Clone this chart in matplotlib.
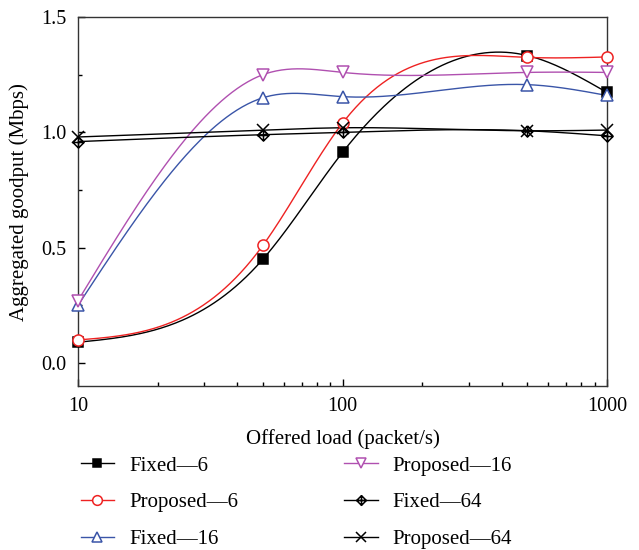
import numpy as np
import matplotlib
matplotlib.use('Agg')
import matplotlib.pyplot as plt
from matplotlib.path import Path
from matplotlib.ticker import MultipleLocator, FixedLocator, NullFormatter

plt.rcParams['font.family'] = ['Liberation Serif', 'DejaVu Serif']
plt.rcParams['font.size'] = 15

# offered load (packet/s)
load = [10, 50, 100, 500, 1000]

# aggregated goodput (Mbps)
fixed_6 = [0.09, 0.45, 0.913, 1.333, 1.173]
proposed_6 = [0.10, 0.51, 1.04, 1.325, 1.327]
fixed_16 = [0.25, 1.15, 1.155, 1.207, 1.16]
proposed_16 = [0.27, 1.25, 1.26, 1.26, 1.26]
fixed_64 = [0.96, 0.99, 1.0, 1.007, 0.985]
proposed_64 = [0.98, 1.01, 1.02, 1.007, 1.01]

labels = ['Fixed\u20146', 'Proposed\u20146', 'Fixed\u201416',
          'Proposed\u201416', 'Fixed\u201464', 'Proposed\u201464']


def spline(xs, ys, n=300):
    # natural cubic spline through the points, in log-x, for a smooth line
    x = np.log10(np.asarray(xs, float))
    y = np.asarray(ys, float)
    k = len(x)
    h = np.diff(x)
    A = np.zeros((k, k))
    b = np.zeros(k)
    A[0, 0] = A[-1, -1] = 1
    for i in range(1, k - 1):
        A[i, i - 1] = h[i - 1]
        A[i, i] = 2 * (h[i - 1] + h[i])
        A[i, i + 1] = h[i]
        b[i] = 6 * ((y[i + 1] - y[i]) / h[i] - (y[i] - y[i - 1]) / h[i - 1])
    m = np.linalg.solve(A, b)
    xx = np.linspace(x[0], x[-1], n)
    j = np.clip(np.searchsorted(x, xx) - 1, 0, k - 2)
    t0 = x[j + 1] - xx
    t1 = xx - x[j]
    hj = h[j]
    yy = (m[j] * t0**3 + m[j + 1] * t1**3) / (6 * hj) \
        + (y[j] / hj - m[j] * hj / 6) * t0 + (y[j + 1] / hj - m[j + 1] * hj / 6) * t1
    return 10**xx, yy


# diamond with a cross inside
diamond_cross = Path(
    [(0, 1), (1, 0), (0, -1), (-1, 0), (0, 1), (0, 1), (0, -1), (-1, 0), (1, 0)],
    [Path.MOVETO, Path.LINETO, Path.LINETO, Path.LINETO, Path.LINETO,
     Path.MOVETO, Path.LINETO, Path.MOVETO, Path.LINETO])

series = [fixed_6, proposed_6, fixed_16, proposed_16, fixed_64, proposed_64]
colors = ['black', '#ee2222', '#3a55a8', '#b050b0', 'black', 'black']
markers = ['s', 'o', '^', 'v', diamond_cross, 'x']
fills = ['black', 'white', 'white', 'white', 'none', 'none']
sizes = [7, 8, 8, 8, 8, 8]

fig = plt.figure(figsize=(6.39, 5.5), dpi=100)
ax = fig.add_axes([0.122, 0.298, 0.828, 0.671])

for ys, c, mk, fc, ms, lab in zip(series, colors, markers, fills, sizes, labels):
    sx, sy = spline(load, ys)
    ax.plot(sx, sy, color=c, lw=1.0, zorder=2)
    ax.plot(load, ys, linestyle='none', marker=mk, color=c, markerfacecolor=fc,
            markeredgecolor=c, markersize=ms, markeredgewidth=1.1, zorder=3,
            clip_on=False)
    ax.plot([], [], color=c, lw=1.0, marker=mk, markerfacecolor=fc,
            markeredgecolor=c, markersize=ms - 1, markeredgewidth=1.1, label=lab)

ax.set_xscale('log')
ax.set_xlim(10, 1000)
ax.set_ylim(-0.1, 1.5)
ax.yaxis.set_major_locator(FixedLocator([0.0, 0.5, 1.0, 1.5]))
ax.yaxis.set_minor_locator(MultipleLocator(0.25))
ax.set_yticklabels(['0.0', '0.5', '1.0', '1.5'])
ax.set_xticks([10, 100, 1000])
ax.set_xticklabels(['10', '100', '1000'])
ax.xaxis.set_minor_formatter(NullFormatter())
ax.tick_params(which='both', direction='in', top=False, right=False, width=1.0,
               labelsize=14.5)
ax.tick_params(which='major', length=5, pad=8)
ax.tick_params(which='minor', length=3)
for s in ax.spines.values():
    s.set_linewidth(1.0)
    s.set_color('#333333')

ax.set_xlabel('Offered load (packet/s)', labelpad=9)
ax.set_ylabel('Aggregated goodput (Mbps)', labelpad=9)

fig.legend(loc='upper left', bbox_to_anchor=(0.097, 0.205), ncol=2, frameon=False,
           handlelength=1.6, handletextpad=0.72, columnspacing=5.1,
           labelspacing=0.83, fontsize=15)

fig.savefig('out.png', dpi=100)
